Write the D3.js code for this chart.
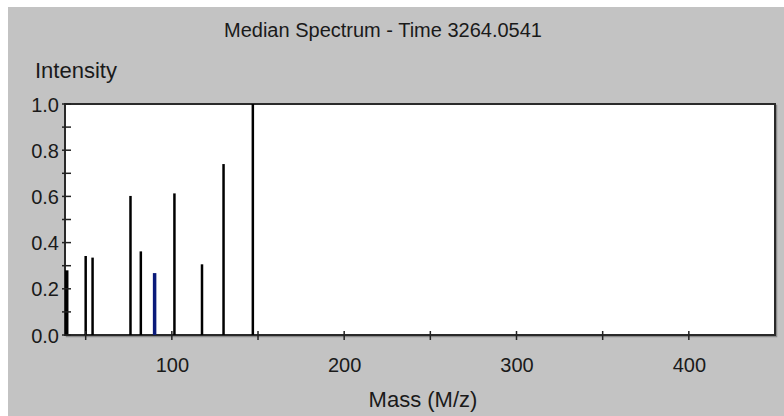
<!DOCTYPE html>
<html>
    <head>
        <meta charset="utf-8">
        <title>Median Spectrum</title>
        <script src="https://cdn.jsdelivr.net/npm/d3@7"></script>
        <style>
            body { margin: 0; background: #fff; }
            text { font-family: "Liberation Sans", Arial, sans-serif; fill: #1a1a1a; }
        </style>
    </head>
    <body>
        <div id="chart"></div>
        <script>
            var width = 784, height = 416;
            var plotLeft = 65, plotRight = 775, plotTop = 104, plotBottom = 335;

            // peaks: mass (m/z) and relative intensity
            var masses = [39, 50, 54, 76, 82, 90, 101.5, 117.5, 130, 147];
            var intensities = [0.28, 0.342, 0.335, 0.602, 0.362, 0.268, 0.613, 0.306, 0.74, 1.0];
            var peakColors = ["#000", "#000", "#000", "#000", "#000", "#0a1a7a", "#000", "#000", "#000", "#000"];
            var peakWidths = [3.5, 2.5, 2.5, 2.5, 2.5, 3.5, 2.5, 2.5, 2.5, 2.5];

            var xTicks = [100, 200, 300, 400];
            var xMinor = [50, 150, 250, 350];
            var yTicks = [0, 0.2, 0.4, 0.6, 0.8, 1.0];
            var yMinor = [0.1, 0.3, 0.5, 0.7, 0.9];

            var svg = d3.select("#chart")
                .append("svg")
                .attr("width", width)
                .attr("height", height);

            // gray panel
            svg.append("rect")
                .attr("x", 8).attr("y", 7)
                .attr("width", width - 8).attr("height", height - 7)
                .attr("fill", "#c3c3c3");

            var xScale = d3.scaleLinear().domain([38, 450]).range([plotLeft, plotRight]);
            var yScale = d3.scaleLinear().domain([0, 1]).range([plotBottom, plotTop]);

            // plot area
            svg.append("rect")
                .attr("x", plotLeft + 1.5).attr("y", plotTop + 1.5)
                .attr("width", plotRight - plotLeft).attr("height", plotBottom - plotTop)
                .attr("fill", "none").attr("stroke", "#8a8a8a").attr("stroke-width", 1.5);
            svg.append("rect")
                .attr("x", plotLeft).attr("y", plotTop)
                .attr("width", plotRight - plotLeft).attr("height", plotBottom - plotTop)
                .attr("fill", "#fff").attr("stroke", "#2a2a2a").attr("stroke-width", 2);

            // peaks
            svg.selectAll("line.peak")
                .data(masses)
                .enter()
                .append("line")
                .attr("class", "peak")
                .attr("x1", function (d) { return xScale(d); })
                .attr("x2", function (d) { return xScale(d); })
                .attr("y1", yScale(0))
                .attr("y2", function (d, i) { return yScale(intensities[i]); })
                .attr("stroke", function (d, i) { return peakColors[i]; })
                .attr("stroke-width", function (d, i) { return peakWidths[i]; });

            // X axis
            var xAxis = d3.axisBottom(xScale).tickValues(xTicks).tickSize(0).tickPadding(37);
            var gx = svg.append("g")
                .attr("transform", "translate(0," + plotBottom + ")")
                .call(xAxis);
            gx.select(".domain").remove();
            gx.selectAll("text")
                .attr("dy", 0)
                .attr("font-size", 20)
                .style("font-family", "Liberation Sans, Arial, sans-serif")
                .attr("fill", "#1a1a1a");
            svg.selectAll("line.xtick")
                .data(xTicks.concat(xMinor))
                .enter()
                .append("line")
                .attr("class", "xtick")
                .attr("x1", function (d) { return xScale(d); })
                .attr("x2", function (d) { return xScale(d); })
                .attr("y1", plotBottom - 4)
                .attr("y2", plotBottom + 5)
                .attr("stroke", "#222").attr("stroke-width", 1.5);

            // Y axis
            var yAxis = d3.axisLeft(yScale).tickValues(yTicks).tickFormat(d3.format(".1f")).tickSize(0).tickPadding(6);
            var gy = svg.append("g")
                .attr("transform", "translate(" + plotLeft + ",0)")
                .call(yAxis);
            gy.select(".domain").remove();
            gy.selectAll("text")
                .attr("dy", 7)
                .attr("font-size", 20)
                .style("font-family", "Liberation Sans, Arial, sans-serif")
                .attr("fill", "#1a1a1a");
            svg.selectAll("line.ytick")
                .data(yTicks.concat(yMinor))
                .enter()
                .append("line")
                .attr("class", "ytick")
                .attr("x1", plotLeft - 3)
                .attr("x2", plotLeft + 6)
                .attr("y1", function (d) { return yScale(d); })
                .attr("y2", function (d) { return yScale(d); })
                .attr("stroke", "#222").attr("stroke-width", 1.5);

            // titles
            svg.append("text")
                .attr("x", 383).attr("y", 37)
                .attr("text-anchor", "middle")
                .attr("font-size", 20)
                .text("Median Spectrum - Time 3264.0541");
            svg.append("text")
                .attr("x", 35).attr("y", 78)
                .attr("font-size", 22)
                .text("Intensity");
            svg.append("text")
                .attr("x", 423).attr("y", 407)
                .attr("text-anchor", "middle")
                .attr("font-size", 22)
                .text("Mass (M/z)");
        </script>
    </body>
</html>
